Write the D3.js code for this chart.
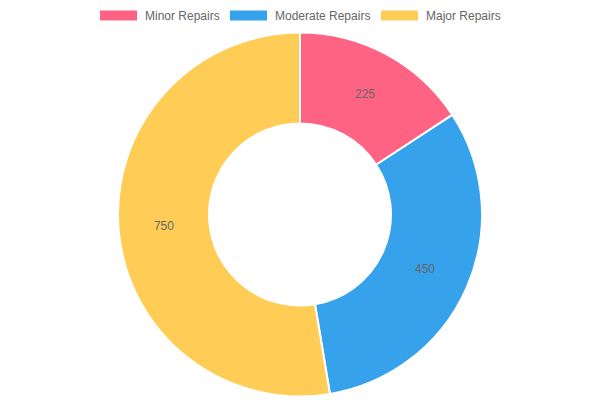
<!DOCTYPE html>
<html><head><meta charset="utf-8">
<script src="https://cdn.jsdelivr.net/npm/d3@7"></script>
<style>html,body{margin:0;padding:0;background:#fff;}svg{display:block;}</style>
</head><body>
<svg id="chart" width="600" height="400"></svg>
<script>
const categories = ["Minor Repairs", "Moderate Repairs", "Major Repairs"];
const values = [225, 450, 750];
const colors = ["#ff6384", "#36a2eb", "#ffcd56"];

const svg = d3.select("#chart");
const font = "'Liberation Sans', Arial, Helvetica, sans-serif";
const cx = 300, cy = 214.5, outerR = 182, innerR = 91;

const pie = d3.pie().sort(null).value(d => d)(values);
const arc = d3.arc().innerRadius(innerR).outerRadius(outerR);
const labelArc = d3.arc().innerRadius((innerR + outerR) / 2).outerRadius((innerR + outerR) / 2);

const g = svg.append("g").attr("transform", `translate(${cx},${cy})`);
g.selectAll("path").data(pie).enter().append("path")
  .attr("d", arc)
  .attr("fill", (d, i) => colors[i])
  .attr("stroke", "#fff").attr("stroke-width", 2).attr("stroke-linejoin", "round");

g.selectAll("text").data(pie).enter().append("text")
  .attr("transform", d => `translate(${labelArc.centroid(d)})`)
  .attr("text-anchor", "middle").attr("dominant-baseline", "central")
  .attr("font-family", font).attr("font-size", 12).attr("fill", "#666")
  .text(d => d.data);

// legend
const legendX = [100, 230, 381];
const legend = svg.append("g");
categories.forEach((c, i) => {
  legend.append("rect").attr("x", legendX[i]).attr("y", 10.5).attr("width", 37).attr("height", 10)
    .attr("fill", colors[i]);
  legend.append("text").attr("x", legendX[i] + 45).attr("y", 16)
    .attr("dominant-baseline", "central")
    .attr("font-family", font).attr("font-size", 12).attr("fill", "#666").text(c);
});
</script>
</body></html>
